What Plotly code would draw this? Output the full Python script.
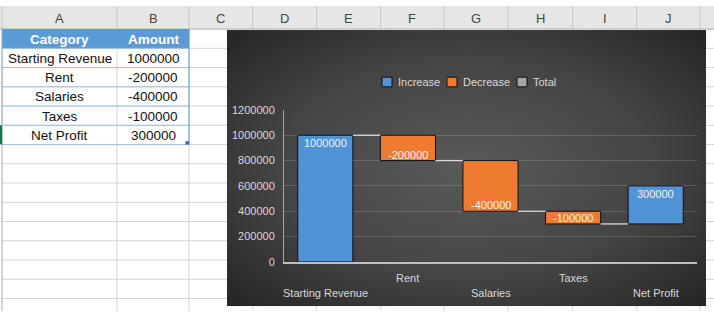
import base64
import plotly.graph_objects as go

# ---------------- data ----------------
categories = ["Starting Revenue", "Rent", "Salaries", "Taxes", "Net Profit"]
amounts = [1000000, -200000, -400000, -100000, 300000]
y_ticks = [0, 200000, 400000, 600000, 800000, 1000000, 1200000]
col_letters = ["A", "B", "C", "D", "E", "F", "G", "H", "I", "J"]
table_header = ["Category", "Amount"]
legend_names = ["Increase", "Decrease", "Total"]

W, H = 714, 317


def X(px):
    return px / W


def Y(py):
    return 1 - py / H


# running bases for waterfall
bases = []
run = 0
for a in amounts:
    bases.append(run)
    run += a
idx = list(range(len(categories)))

BLUE = "#5094d7"
ORANGE = "#ef7b31"
GRAY = "#a5a5a5"
TXT = "#d9d9d9"
FONT = "Liberation Sans"
legend_colors = [BLUE, ORANGE, GRAY]

fig = go.Figure()

inc_y = [a if a > 0 else None for a in amounts]
dec_y = [a if a < 0 else None for a in amounts]

fig.add_trace(go.Bar(
    name="Increase", x=idx, y=inc_y, base=bases,
    marker=dict(color=BLUE, line=dict(color="#111111", width=1)),
    hoverinfo="skip"))
fig.add_trace(go.Bar(
    name="Decrease", x=idx, y=dec_y, base=bases,
    marker=dict(color=ORANGE, line=dict(color="#111111", width=1)),
    hoverinfo="skip"))
fig.add_trace(go.Bar(
    name="Total", x=idx, y=[None] * len(idx),
    marker=dict(color=GRAY, line=dict(color="#111111", width=1)),
    hoverinfo="skip"))

# connectors
half = (1 - 0.333) / 2
cx, cy = [], []
for i in range(len(amounts) - 1):
    level = bases[i] + amounts[i]
    cx += [i + half, i + 1 - half, None]
    cy += [level, level, None]
fig.add_trace(go.Scatter(x=cx, y=cy, mode="lines", showlegend=False,
                         line=dict(color="#d9d9d9", width=1.3), hoverinfo="skip"))

annotations = []
# data labels at the inside end of each bar
for i, (b, a) in enumerate(zip(bases, amounts)):
    end = b + a
    annotations.append(dict(x=i, xref="x", y=end, yref="y", text=str(a),
                            showarrow=False, xanchor="center",
                            yanchor="top" if a > 0 else "bottom",
                            yshift=0 if a > 0 else -2,
                            font=dict(color="#f2f2f2", size=11, family=FONT)))

# category labels (staggered like Excel)
for i, c in enumerate(categories):
    row_y = 283 if i % 2 == 1 else 298
    annotations.append(dict(x=i, xref="x", y=Y(row_y), yref="paper", text=c,
                            showarrow=False, xanchor="center", yanchor="middle",
                            font=dict(color=TXT, size=11, family=FONT)))

shapes = []

# legend (drawn like Excel's compact legend)
leg_x = [382, 447, 517]
for name, col, lx in zip(legend_names, legend_colors, leg_x):
    shapes.append(dict(type="rect", xref="paper", yref="paper", x0=X(lx), x1=X(lx + 10),
                       y0=Y(84), y1=Y(74), fillcolor=col,
                       line=dict(color="#111111", width=1)))
    annotations.append(dict(x=X(lx + 14), y=Y(79), xref="paper", yref="paper", text=name,
                            showarrow=False, xanchor="left", yanchor="middle",
                            font=dict(color=TXT, size=11, family=FONT)))

# ---------------- spreadsheet decoration ----------------
col_edges = [2, 117, 189, 252.7, 316.7, 380.7, 444, 508, 572.7, 636.7, 700]
chart_l, chart_r, chart_t, chart_b = 227, 706, 25, 312

# header row
shapes.append(dict(type="rect", xref="paper", yref="paper", x0=0, x1=1,
                   y0=Y(24), y1=Y(0), fillcolor="#e6e6e6", line=dict(width=0), layer="below"))
for e in col_edges:
    shapes.append(dict(type="line", xref="paper", yref="paper", x0=X(e), x1=X(e),
                       y0=Y(0), y1=Y(24), line=dict(color="#c6c6c6", width=1), layer="below"))
shapes.append(dict(type="line", xref="paper", yref="paper", x0=0, x1=1,
                   y0=Y(24), y1=Y(24), line=dict(color="#ababab", width=1), layer="below"))

# body horizontal grid lines
for r in range(44, 317, 20):
    shapes.append(dict(type="line", xref="paper", yref="paper", x0=X(2), x1=X(chart_l),
                       y0=Y(r), y1=Y(r), line=dict(color="#d4d4d4", width=1), layer="below"))
    shapes.append(dict(type="line", xref="paper", yref="paper", x0=X(chart_r), x1=1,
                       y0=Y(r), y1=Y(r), line=dict(color="#d4d4d4", width=1), layer="below"))
# body vertical grid lines
for e in col_edges:
    if e < chart_l:
        shapes.append(dict(type="line", xref="paper", yref="paper", x0=X(e), x1=X(e),
                           y0=Y(24), y1=0,
                           line=dict(color="#ababab" if e == 2 else "#d4d4d4", width=1),
                           layer="below"))
    else:
        shapes.append(dict(type="line", xref="paper", yref="paper", x0=X(e), x1=X(e),
                           y0=Y(chart_b), y1=0, line=dict(color="#d4d4d4", width=1),
                           layer="below"))

# table header fill
shapes.append(dict(type="rect", xref="paper", yref="paper", x0=X(2), x1=X(189),
                   y0=Y(44), y1=Y(24), fillcolor="#5b9bd5", line=dict(width=0), layer="below"))
# table borders
for r in range(44, 145, 20):
    shapes.append(dict(type="line", xref="paper", yref="paper", x0=X(2), x1=X(189),
                       y0=Y(r), y1=Y(r), line=dict(color="#9bc2e6", width=1), layer="below"))
shapes.append(dict(type="line", xref="paper", yref="paper", x0=X(189), x1=X(189),
                   y0=Y(24), y1=Y(144), line=dict(color="#5b9bd5", width=1), layer="below"))
shapes.append(dict(type="line", xref="paper", yref="paper", x0=X(2), x1=X(2),
                   y0=Y(24), y1=Y(144), line=dict(color="#9bc2e6", width=1), layer="below"))
# selected row indicator and table handle
shapes.append(dict(type="rect", xref="paper", yref="paper", x0=0, x1=X(2),
                   y0=Y(144), y1=Y(124), fillcolor="#217346", line=dict(width=0), layer="below"))
shapes.append(dict(type="rect", xref="paper", yref="paper", x0=X(185.5), x1=X(189),
                   y0=Y(144), y1=Y(140.5), fillcolor="#3f5fbf", line=dict(width=0), layer="below"))

# column letters
centers = [(col_edges[i] + col_edges[i + 1]) / 2 for i in range(len(col_letters))]
for L, cxp in zip(col_letters, centers):
    annotations.append(dict(x=X(cxp), y=Y(13), xref="paper", yref="paper", text=L,
                            showarrow=False, xanchor="center", yanchor="middle",
                            font=dict(color="#444444", size=13, family=FONT)))
# table text
for j, t in enumerate(table_header):
    annotations.append(dict(x=X(centers[j]), y=Y(34.5), xref="paper", yref="paper",
                            text="<b>" + t + "</b>", showarrow=False, xanchor="center",
                            yanchor="middle", font=dict(color="white", size=13.5, family=FONT)))
for i, (c, a) in enumerate(zip(categories, amounts)):
    yy = 54.5 + 20 * i
    annotations.append(dict(x=X(centers[0]), y=Y(yy), xref="paper", yref="paper", text=c,
                            showarrow=False, xanchor="center", yanchor="middle",
                            font=dict(color="#111111", size=13.5, family=FONT)))
    annotations.append(dict(x=X(centers[1]), y=Y(yy), xref="paper", yref="paper", text=str(a),
                            showarrow=False, xanchor="center", yanchor="middle",
                            font=dict(color="#111111", size=13.5, family=FONT)))

# chart background (radial gradient)
cw, ch = chart_r - chart_l, chart_b - chart_t
svg = (f"<svg xmlns='http://www.w3.org/2000/svg' width='{cw}' height='{ch}' "
       f"preserveAspectRatio='none'><defs><radialGradient id='g' cx='50%' cy='50%' r='72%'>"
       f"<stop offset='0' stop-color='#5a5a5a'/><stop offset='0.55' stop-color='#444444'/>"
       f"<stop offset='1' stop-color='#232323'/></radialGradient></defs>"
       f"<rect width='{cw}' height='{ch}' fill='url(#g)'/></svg>")
src = "data:image/svg+xml;base64," + base64.b64encode(svg.encode()).decode()
images = [dict(source=src, xref="paper", yref="paper", x=X(chart_l), y=Y(chart_t),
               sizex=cw / W, sizey=ch / H, sizing="stretch", xanchor="left",
               yanchor="top", layer="below")]

fig.update_layout(
    width=W, height=H, margin=dict(l=0, r=0, t=0, b=0),
    paper_bgcolor="white", plot_bgcolor="rgba(0,0,0,0)",
    barmode="overlay", bargap=0.333,
    showlegend=False,
    xaxis=dict(domain=[X(284), X(697)], range=[-0.5, len(categories) - 0.5],
               showticklabels=False, showgrid=False, zeroline=False, ticks="",
               showline=True, linecolor="#bfbfbf", linewidth=1.5, fixedrange=True),
    yaxis=dict(domain=[1 - 266 / H, 1 - 108 / H], range=[0, 1200000],
               tickvals=y_ticks, ticktext=[str(v) for v in y_ticks],
               showgrid=True, gridcolor="rgba(255,255,255,0.16)", gridwidth=1,
               zeroline=False, showline=True, linecolor="#a6a6a6", linewidth=1,
               ticks="", ticklabelstandoff=6,
               tickfont=dict(color=TXT, size=11, family=FONT), fixedrange=True),
    shapes=shapes, annotations=annotations, images=images,
    font=dict(family=FONT),
)

fig.write_html("out.html")
